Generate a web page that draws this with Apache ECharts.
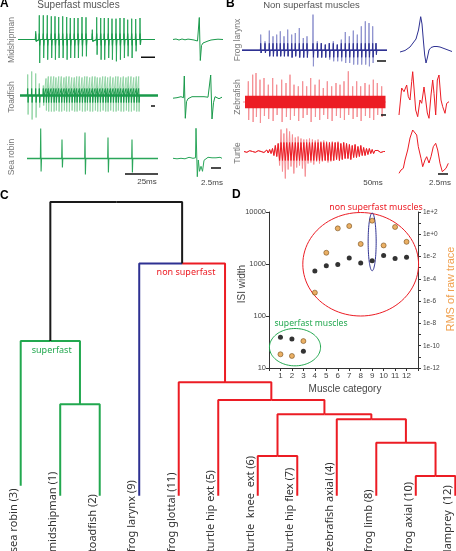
<!DOCTYPE html>
<html><head><meta charset="utf-8">
<script src="https://cdn.jsdelivr.net/npm/echarts@6/dist/echarts.min.js"></script>
<style>html,body{margin:0;padding:0;background:#fff;}#chart{width:456px;height:551px;}</style>
</head><body><div id="chart"></div>
<script>
// ================= DATA =================
// ---- Panel D: per muscle category ----
const muscleCategory = [1, 2, 3, 4, 5, 6, 7, 8, 9, 10, 11, 12];
const isiWidth = [39, 36, 21, 730, 930, 980, 1300, 1050, 1150, 1450, 1280, 1350];
const rmsRawTrace = [1.7e-11, 1.2e-11, 2.6e-10, 5.8e-6, 0.022, 3.4, 5.5, 0.135, 16.6, 0.10, 4.5, 0.21];
const isiTickLabels = ['10', '100', '1000', '10000'];
// outlined groups (category centre, half width in categories, ISI range)
const groupNames = ['non superfast muscles', 'frog larynx', 'superfast muscles'];
const groupCentreCat = [8, 9, 2.27];
const groupHalfWidthCat = [5.05, 0.35, 2.23];
const groupIsiLow = [100, 741, 11];
const groupIsiHigh = [9770, 9550, 57.5];

// ---- Panel C: dendrogram ----
const dendroLeaves = ['sea robin (3)', 'midshipman (1)', 'toadfish (2)', 'frog larynx (9)', 'frog glottal (11)',
  'turtle hip ext (5)', 'turtle  knee  ext (6)', 'turtle hip flex (7)', 'zebrafish axial (4)', 'frog limb (8)',
  'frog axial (10)', 'lamprey  (12)'];
const leafStemBase = [0.34, 0, 0, 0, 0, 0, 0, 0, 0, 0, 0, 0];
// merges: child A, child B (ids: leaves 0-11, merge k -> 12+k), linkage height
const mergeChildA = [10, 6, 9, 8, 13, 1, 5, 4, 0, 3, 20];
const mergeChildB = [11, 7, 12, 14, 15, 2, 16, 18, 17, 19, 21];
const mergeHeight = [0.67, 1.35, 1.80, 2.60, 2.77, 3.11, 3.26, 3.86, 5.27, 7.91, 10.0];
const mergeGroupA = ['non', 'non', 'non', 'non', 'non', 'super', 'non', 'non', 'super', 'larynx', 'root'];
const mergeGroupB = ['non', 'non', 'non', 'non', 'non', 'super', 'non', 'non', 'super', 'non', 'root'];

// ---- Panels A/B: spike trains (time, amplitude up, amplitude down; arbitrary units) ----
const midshipmanT = [17.7, 21.3, 25.3, 29.3, 33.3, 37, 40.7, 44.7, 48.7, 52.3, 56.3, 60, 64, 68, 74.3, 78.7, 82.7, 86.3, 90.3, 94, 98, 102, 106, 109.7, 113.7, 117.7, 122];
const midshipmanUp = [8.2, 24.2, 24.2, 24.2, 23.2, 23.2, 22.5, 23.2, 22.5, 21.5, 21.5, 21.5, 22.5, 22.2, 9.8, 22.2, 21.5, 21.5, 21.5, 20.8, 20.8, 21.5, 21.5, 19.8, 20.8, 20.5, 21.5];
const midshipmanDown = [1.8, 23.5, 18.5, 20.2, 18.5, 20.2, 18.5, 18.5, 20.2, 18.5, 18.5, 18.5, 16.8, 16.8, 1.8, 15.2, 20.2, 20.2, 18.5, 20.2, 21.8, 20.2, 18.5, 16.8, 18.5, 11.8, 5.2];

const toadfishT = [7.7, 11.7, 15.7, 19.3, 23.3, 26, 28.3, 31, 33.7, 36, 38.7, 41.3, 44, 46.3, 49, 51.7, 54.3, 56.7, 59.3, 62, 64.7, 67, 69.7, 72.3, 75, 77.3, 80, 82.7, 85.3, 87.7, 90.3, 93, 95.7, 98, 100.7, 103.3, 106, 108.3, 111, 113.7, 116.3, 118.7];
const toadfishUp = [21, 24, 22, 12, 10, 17, 19, 19, 19, 18, 19, 19, 18, 19, 19, 18, 18, 19, 19, 18, 19, 19, 18, 19, 19, 18, 18, 19, 19, 18, 19, 18, 19, 19, 18, 19, 18, 19, 19, 18, 19, 19];
const toadfishDown = [19, 24, 22, 12, 10, 15, 16, 16, 16, 15, 16, 16, 15, 16, 16, 15, 16, 16, 15, 16, 16, 15, 16, 16, 15, 16, 16, 15, 16, 16, 15, 16, 16, 15, 16, 16, 15, 16, 16, 15, 16, 16];

const seaRobinT = [13.7, 35, 58, 81, 105];
const seaRobinUp = [30, 19, 26, 21, 19];
const seaRobinDown = [13, 9, 16, 14, 14];

const frogLarynxT = [18.7, 23, 27.3, 31, 34.7, 38.3, 42, 45.7, 49.7, 53.3, 57.3, 61.3, 65, 71, 75.3, 79.3, 83.3, 87.3, 91.3, 95.3, 99.3, 103.3, 107.3, 111.3, 115.3, 119.3, 123.3, 127, 130.7, 134];
const frogLarynxUp = [15.7, 9, 19.7, 14, 15.7, 19, 14, 20.7, 15.7, 17.3, 22.3, 12.3, 14, 35.7, 9, 7.3, 5.7, 7.3, 9, 5.7, 10.7, 18.3, 14, 19.7, 15.7, 24, 29, 27.3, 24, 7.3];
const frogLarynxDown = [2.7, 2.7, 6, 6, 6, 6, 6, 6, 7.7, 6, 7.7, 7.7, 7.7, 16, 7.7, 7.7, 7.7, 9.3, 11, 11, 11, 12.7, 12.7, 14.3, 14.3, 14.3, 14.3, 16, 12.7, 4.3];

const zebrafishT = [5.3, 9.7, 13, 17, 21, 25.3, 29.7, 33.7, 38.7, 43, 47, 51, 55.3, 59.7, 63.7, 67.7, 72, 76.3, 80.3, 84.3, 88.7, 93, 97, 101, 105.3, 109.7, 113.7, 117.7, 122, 126.3, 130.3, 134.3, 138.7];
const zebrafishUp = [20.7, 27.3, 29, 22.3, 24, 17.3, 24, 17.3, 22.3, 19, 27.3, 17.3, 15.7, 20.7, 15.7, 24, 17.3, 22.3, 14, 20.7, 15.7, 19, 17.3, 20.7, 30.7, 15.7, 20.7, 15.7, 19, 17.3, 22.3, 19, 15.7];
const zebrafishDown = [18, 20, 15, 21, 14, 17, 19, 13, 20, 15, 18, 14, 19, 16, 13, 20, 15, 18, 13, 17, 19, 14, 16, 18, 13, 17, 15, 19, 14, 16, 18, 13, 15];

// turtle burst, evenly sampled
const turtleSamples = [0, 0.8, -0.8, 0, 0.8, -0.8, 0, 0.8, -0.8, 0, 0.8, -0.8, 0, 1, -1, 0, 1.5, -1.5, 2, -2,
  3, -4, 6, -5, 8,
  -14, 22, -20, 18, -27, 23,
  -18, 20, -15, 17, -22, 14,
  -16, 15, -14, 13, -17, 12,
  -25, 12, -12, 13, -11, 12,
  -13, 11, -10, 12, -12, 10,
  -10, 11, -9, 10, -11, 9,
  -10, 10, -9, 9, -8, 10,
  -9, 8, -8, 9, -7, 8,
  -7, 7, -8, 6, -6, 7,
  -6, 5, -5, 6, -4, 4,
  -4, 3, -3, 3, -2, 2,
  -2, 1, -1, 1, 0, -1, 0.5, 0, 0];

// single-spike close-ups [time, amplitude]
const midshipmanSpike = [[0, 0], [3, 0.5], [6, -0.5], [9, 0.5], [12, -0.3], [15, 0.4], [18, 0], [21, -0.5], [23, 1], [24.5, -1.5], [25.5, 0.5], [26.3, 22], [27.3, -21], [28.5, -6], [30, -3.5], [32, -2.5], [35, -1.5], [38, -0.5], [42, 0], [45, 0.3], [50, 0]];
const toadfishSpikes = [[0, -0.5], [2, 1], [4, 0], [6, -1], [8, 1], [9.5, -1], [10.5, 0], [11.3, 21.7], [12.3, -20.6], [13.5, -4], [15, -1], [17, 0.5], [19, 1], [21, 0], [23, 1], [25, 0.5], [27, 1], [29, 0], [31, 1], [33, 0], [35, 0.5], [36.5, -1], [37.7, 22.7], [39, -21.3], [40.5, -5], [42, 1], [44, 0], [46, -1], [47.5, -2.3], [49, 0.5]];
const seaRobinSpike = [[0, 0], [2, 1], [4, -0.5], [6, 1], [8, 0], [10, 1], [12, -0.5], [14, 0.5], [16, 1], [18, -0.5], [20, 0], [21.5, -1], [22.5, 0.5], [23, 30], [24.3, -18.4], [25.3, -1.7], [26.5, -13], [28, -8], [29.5, -13], [31, -2], [33, 0], [35, 1], [37, 0], [39, 0.5], [41, -0.5], [43, 0.5], [45, 0], [47, 1], [49, 0]];
const frogLarynxSpike = [[0, -1.5], [5, 0], [10, 3.5], [13, 7.5], [16, 11.5], [18.5, 20.5], [20.7, 33.8], [22, 26.5], [23.5, 8.5], [24.7, -4.5], [26, -12.5], [27.3, -7.5], [29, 0.5], [31, 3], [34, 4], [37, 4], [40, 3.5], [44, 2], [48, 0.5], [52, -1]];
const zebrafishSpike = [[0, -15], [2.7, 12], [5, 8.3], [7.7, 15], [9.3, 3.3], [11, 0], [12.7, 18.3], [13.7, 28.3], [15, 12], [16.7, -10], [18.7, -16.7], [21, 0], [22.7, -3.3], [25, 13], [26.7, 0], [28.3, -13], [30, -18.3], [32, 5], [33.7, 20], [35, 6.7], [36.7, -15], [38.3, 20], [40, 25], [42, 0], [43.7, -6.7], [46, -13.3], [47.7, -3.3], [50, -1.7]];
const turtleSpike = [[0, -21.3], [2, -18], [4.3, -16.3], [6, -8], [8.7, 2], [11, 14], [13.7, 22], [15.3, 23.7], [17.7, 17], [19.3, 5.3], [22, -6.3], [23.7, -14.7], [26, -8], [27.7, -4.7], [30, -11], [32, -4.7], [34.3, 5.3], [36.7, 8.7], [38.7, 2], [41, -11.3], [43.3, -19.7], [45.3, -21.3], [47, -16.3], [49.3, -11.3]];

// ================= LAYOUT / STYLE =================
const SANS = '"Liberation Sans", Arial, sans-serif';
const SEGOE = '"Noto Sans", sans-serif';
const GREEN = '#22a84f', GREEN_MID = '#2aa65a', GREEN_LIGHT = '#93d5a6', GREEN_DARK = '#1a9a4b';
const NAVY = '#2e3192', NAVY_LIGHT = '#8e92cf';
const RED = '#ec1c24', RED_LIGHT = '#f58f94';
const ORANGE = '#e59c3e';
const groupColor = {non: RED, super: GREEN, larynx: NAVY, root: '#1a1a1a'};
const ellipseColor = [RED, NAVY, GREEN];

const traceLayout = {
  mid:   {left: 18,  base: 39.5,  width: 137},
  toad:  {left: 20,  base: 95.5,  width: 138},
  sea:   {left: 27,  base: 158.5, width: 131},
  midD:  {left: 173, base: 39.5,  width: 50},
  toadD: {left: 173, base: 97.7,  width: 50},
  seaD:  {left: 173, base: 158.3, width: 50},
  frog:  {left: 242, base: 50.3,  width: 145},
  zeb:   {left: 243, base: 102,   width: 143},
  turt:  {left: 244, base: 151.5, width: 141},
  frogD: {left: 400, base: 50.5,  width: 53},
  zebD:  {left: 399, base: 100,   width: 50},
  turtD: {left: 399, base: 152,   width: 50}
};
const scaleBars = [
  {trace: 'mid', t0: 123, t1: 137, level: -17.8},
  {trace: 'toad', t0: 131, t1: 135, level: -10.5},
  {trace: 'sea', t0: 98, t1: 131, level: -15.5},
  {trace: 'seaD', t0: 38, t1: 48, level: -9.7},
  {trace: 'frog', t0: 135, t1: 144, level: -10.7},
  {trace: 'zeb', t0: 138, t1: 143, level: -13},
  {trace: 'turt', t0: 137, t1: 142, level: -10.5},
  {trace: 'turtD', t0: 39, t1: 49, level: -22}
];

// ================= BUILD =================
const grids = [], xAxes = [], yAxes = [], series = [];
function addGrid(g, xa, ya) {
  g.outerBoundsMode = 'none';
  grids.push(g);
  const gi = grids.length - 1;
  xa.gridIndex = gi; ya.gridIndex = gi;
  xAxes.push(xa); yAxes.push(ya);
  return {x: xAxes.length - 1, y: yAxes.length - 1};
}
const traceAxes = {};
for (const k in traceLayout) {
  const L = traceLayout[k];
  const xa = (k === 'turt')
    ? {type: 'category', data: turtleSamples.map((_, i) => i), boundaryGap: false, show: false}
    : {type: 'value', min: 0, max: L.width, show: false};
  traceAxes[k] = addGrid({left: L.left, top: L.base - 40, width: L.width, height: 80},
    xa, {type: 'value', min: -40, max: 40, show: false});
}
function addLine(key, data, color, width, z) {
  series.push({type: 'line', xAxisIndex: traceAxes[key].x, yAxisIndex: traceAxes[key].y, data: data,
    symbol: 'none', showSymbol: false, lineStyle: {color: color, width: width}, silent: true,
    z: z || 2, clip: false, animation: false});
}
function spikeTrain(times, ups, downs, end, cap) {
  const pts = [[0, 0]];
  times.forEach((t, i) => {
    const u = cap ? Math.min(ups[i], cap) : ups[i];
    const d = cap ? Math.min(downs[i], cap) : downs[i];
    pts.push([t - 0.3, 0], [t, u], [t + 0.4, -d], [t + 0.8, 0]);
  });
  pts.push([end, 0]);
  return pts;
}
// Panel A
addLine('mid', spikeTrain(midshipmanT, midshipmanUp, midshipmanDown, traceLayout.mid.width), GREEN_MID, 1);
addLine('mid', spikeTrain(midshipmanT, midshipmanUp, midshipmanDown, traceLayout.mid.width, 6), GREEN_DARK, 1.2, 3);
addLine('toad', spikeTrain(toadfishT, toadfishUp, toadfishDown, traceLayout.toad.width), GREEN_LIGHT, 1);
addLine('toad', spikeTrain(toadfishT, toadfishUp, toadfishDown, traceLayout.toad.width, 7), GREEN_DARK, 1, 3);
addLine('toad', [[0, 0], [traceLayout.toad.width, 0]], GREEN_DARK, 2.5, 3);
addLine('sea', spikeTrain(seaRobinT, seaRobinUp, seaRobinDown, traceLayout.sea.width), GREEN_MID, 1.1);
addLine('sea', [[0, 0], [traceLayout.sea.width, 0]], GREEN_MID, 1.3);
addLine('midD', midshipmanSpike, GREEN_DARK, 1);
addLine('toadD', toadfishSpikes, GREEN_DARK, 1);
addLine('seaD', seaRobinSpike, GREEN_MID, 1);
// Panel B
addLine('frog', spikeTrain(frogLarynxT, frogLarynxUp, frogLarynxDown, traceLayout.frog.width), NAVY_LIGHT, 1);
addLine('frog', spikeTrain(frogLarynxT, frogLarynxUp, frogLarynxDown, traceLayout.frog.width, 7), NAVY, 1, 3);
addLine('frog', [[0, 0], [traceLayout.frog.width, 0]], NAVY, 1.5, 3);
addLine('zeb', spikeTrain(zebrafishT, zebrafishUp, zebrafishDown, traceLayout.zeb.width), RED_LIGHT, 1);
addLine('zeb', [[2, 0], [traceLayout.zeb.width - 0.5, 0]], RED, 12.5, 3);
addLine('turt', turtleSamples, RED_LIGHT, 1);
addLine('turt', turtleSamples.map(v => Math.max(-9, Math.min(9, v))), RED, 1, 3);
addLine('frogD', frogLarynxSpike, NAVY, 1);
addLine('zebD', zebrafishSpike, RED, 1);
addLine('turtD', turtleSpike, RED, 1);
scaleBars.forEach(b => addLine(b.trace, [[b.t0, b.level], [b.t1, b.level]], '#111', 1.5, 4));

// Panel C: dendrogram
const dendro = addGrid({left: 20.7, top: 202, width: 434.6, height: 293.7},
  {type: 'value', min: 0, max: 11, show: false},
  {type: 'value', min: 0, max: 10, show: false});
const nodeX = dendroLeaves.map((_, i) => i);
const nodeH = leafStemBase.slice();
mergeHeight.forEach((h, k) => {
  const a = mergeChildA[k], b = mergeChildB[k];
  const id = dendroLeaves.length + k;
  nodeX[id] = (nodeX[a] + nodeX[b]) / 2;
  nodeH[id] = h;
  [[a, mergeGroupA[k]], [b, mergeGroupB[k]]].forEach(([c, g]) => {
    series.push({type: 'line', xAxisIndex: dendro.x, yAxisIndex: dendro.y, symbol: 'none', silent: true,
      clip: false, animation: false,
      data: [[nodeX[c], nodeH[c]], [nodeX[c], h], [nodeX[id], h]],
      lineStyle: {color: groupColor[g], width: 2}});
  });
});
series.push({type: 'custom', xAxisIndex: dendro.x, yAxisIndex: dendro.y, silent: true, clip: false,
  data: dendroLeaves.map((_, i) => [i, 0]), encode: {x: 0, y: 1},
  renderItem: function (params, api) {
    const p = api.coord([api.value(0), 0]);
    return {type: 'text', x: p[0] - 7, y: p[1] + 56.5, rotation: Math.PI / 2,
      style: {text: dendroLeaves[params.dataIndex], fill: '#333', font: '11px ' + SEGOE,
        align: 'left', verticalAlign: 'middle'}};
  }});

// Panel D
grids.push({left: 269, top: 212, width: 149, height: 156, outerBoundsMode: 'none'});
const dG = grids.length - 1;
const axisLineStyle = {color: '#333', width: 1};
xAxes.push({type: 'value', gridIndex: dG, min: 0, max: 13, interval: 1,
  axisLine: {show: true, onZero: false, lineStyle: axisLineStyle},
  axisTick: {show: true, length: 3, lineStyle: axisLineStyle},
  axisLabel: {fontSize: 8, color: '#444', fontFamily: SANS, margin: 4,
    formatter: v => (muscleCategory.indexOf(v) >= 0 ? String(v) : '')},
  splitLine: {show: false}});
const dX = xAxes.length - 1;
yAxes.push({type: 'log', logBase: 10, gridIndex: dG, min: 10, max: 10000, position: 'left',
  axisLine: {show: true, onZero: false, lineStyle: axisLineStyle},
  axisTick: {show: true, length: 3, lineStyle: axisLineStyle},
  axisLabel: {fontSize: 7.5, color: '#444', fontFamily: SANS, margin: 3,
    formatter: v => { const s = String(Math.round(v)); return isiTickLabels.indexOf(s) >= 0 ? s : ''; }},
  splitLine: {show: false}});
const dYL = yAxes.length - 1;
yAxes.push({type: 'value', gridIndex: dG, min: -12, max: 2, interval: 1, position: 'right',
  axisLine: {show: true, onZero: false, lineStyle: axisLineStyle},
  axisTick: {show: true, length: 3, lineStyle: axisLineStyle},
  axisLabel: {fontSize: 6.5, color: '#444', fontFamily: SANS, margin: 5,
    formatter: v => (Math.round(v) % 2 === 0 ? '1e' + (v >= 0 ? '+' : '') + Math.round(v) : '')},
  splitLine: {show: false}});
const dYR = yAxes.length - 1;

series.push({type: 'custom', xAxisIndex: dX, yAxisIndex: dYL, silent: true, clip: false, z: 3,
  data: groupNames.map((_, i) => [groupCentreCat[i], groupIsiLow[i], groupIsiHigh[i], groupHalfWidthCat[i]]),
  encode: {x: 0, y: 1},
  renderItem: function (params, api) {
    const cx = api.value(0), lo = api.value(1), hi = api.value(2), hw = api.value(3);
    const pLo = api.coord([cx, lo]), pHi = api.coord([cx, hi]);
    const pR = api.coord([cx + hw, lo]);
    const cxp = pLo[0], cyp = (pLo[1] + pHi[1]) / 2;
    const rx = pR[0] - pLo[0], ry = Math.abs(pLo[1] - pHi[1]) / 2;
    const pts = [];
    for (let k = 0; k < 96; k++) {
      const a = k / 96 * Math.PI * 2;
      pts.push([cxp + rx * Math.cos(a), cyp + ry * Math.sin(a)]);
    }
    return {type: 'polygon', shape: {points: pts},
      style: {fill: 'none', stroke: ellipseColor[params.dataIndex], lineWidth: 1}};
  }});
series.push({type: 'scatter', xAxisIndex: dX, yAxisIndex: dYR, silent: true, z: 5,
  data: muscleCategory.map((c, i) => [c, Math.log10(rmsRawTrace[i])]),
  symbolSize: 5, itemStyle: {color: ORANGE, borderColor: '#6b4210', borderWidth: 0.7}});
series.push({type: 'scatter', xAxisIndex: dX, yAxisIndex: dYL, silent: true, z: 5,
  data: muscleCategory.map((c, i) => [c, isiWidth[i]]),
  symbolSize: 5, itemStyle: {color: '#000'}});

// ================= TEXT =================
const texts = [
  {t: 'A', x: 0, y: 10, size: 12, bold: true, align: 'left', va: 'bottom', color: '#000'},
  {t: 'B', x: 226, y: 10, size: 12, bold: true, align: 'left', va: 'bottom', color: '#000'},
  {t: 'C', x: 0, y: 202, size: 12, bold: true, align: 'left', va: 'bottom', color: '#000'},
  {t: 'D', x: 232, y: 201, size: 12, bold: true, align: 'left', va: 'bottom', color: '#000'},
  {t: 'Superfast muscles', x: 78.5, y: 5.5, size: 10, color: '#555'},
  {t: 'Non superfast muscles', x: 311.5, y: 5.5, size: 9.5, color: '#555'},
  {t: 'Midshipman', x: 12, y: 40, size: 8.5, color: '#777', rot: true},
  {t: 'Toadfish', x: 12, y: 97, size: 8.5, color: '#777', rot: true},
  {t: 'Sea robin', x: 12, y: 157, size: 8.5, color: '#777', rot: true},
  {t: 'Frog larynx', x: 237.5, y: 40, size: 8.5, color: '#777', rot: true},
  {t: 'Zebrafish', x: 237.5, y: 97, size: 8.5, color: '#777', rot: true},
  {t: 'Turtle', x: 237.5, y: 153, size: 8.5, color: '#777', rot: true},
  {t: '25ms', x: 147, y: 182, size: 8, color: '#444'},
  {t: '2.5ms', x: 212, y: 183, size: 8, color: '#444'},
  {t: '50ms', x: 373, y: 183, size: 8, color: '#444'},
  {t: '2.5ms', x: 440, y: 183, size: 8, color: '#444'},
  {t: 'superfast', x: 51.7, y: 350, size: 9, color: GREEN, font: SEGOE},
  {t: 'non superfast', x: 186, y: 272, size: 9, color: RED, font: SEGOE},
  {t: 'non superfast muscles', x: 376, y: 207.5, size: 8.8, color: RED, font: SEGOE},
  {t: 'superfast muscles', x: 311, y: 324, size: 8.6, color: GREEN, font: SEGOE},
  {t: 'ISI width', x: 242.5, y: 284, size: 10, color: '#444', rot: true},
  {t: 'RMS of raw trace', x: 451, y: 289, size: 11, color: '#f0a04e', rot: true},
  {t: 'Muscle category', x: 345, y: 389, size: 10, color: '#444'}
];
const graphic = texts.map(o => ({
  type: 'text', x: o.x, y: o.y, rotation: o.rot ? Math.PI / 2 : 0, silent: true, z: 10,
  style: {text: o.t, fill: o.color, font: (o.bold ? 'bold ' : '') + o.size + 'px ' + (o.font || SANS),
    align: o.align || 'center', verticalAlign: o.va || 'middle'}
}));

const chart = echarts.init(document.getElementById('chart'), null, {renderer: 'canvas'});
chart.setOption({
  animation: false,
  backgroundColor: '#fff',
  textStyle: {fontFamily: SANS},
  grid: grids, xAxis: xAxes, yAxis: yAxes, series: series, graphic: graphic
});
</script>
</body></html>
